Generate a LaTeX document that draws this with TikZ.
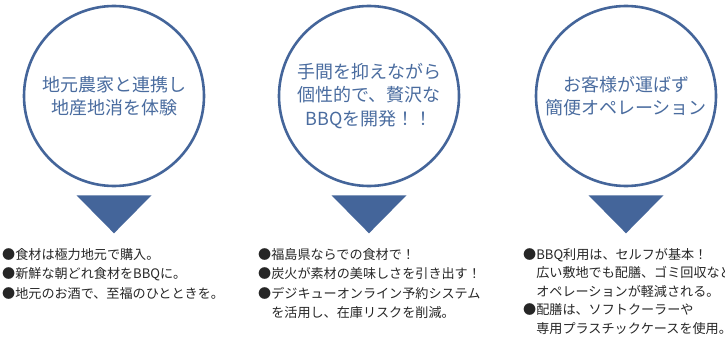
\documentclass[tikz,border=0pt]{standalone}
\usepackage{fontspec}
\setmainfont{Noto Sans CJK JP}
\usetikzlibrary{positioning,calc}
\definecolor{bbqblue}{HTML}{44659A}
\definecolor{bbqtext}{HTML}{4A6C9F}
\tikzset{
  ring/.style={circle,draw=bbqblue,line width=2.6pt,minimum size=180pt,inner sep=0pt,
    text=bbqtext,align=center,font=\fontsize{18}{23.5}\selectfont},
  points/.style={anchor=north west,inner sep=0pt,align=left,text=black!85,
    font=\fontsize{13.1}{19.5}\selectfont},
  wedge/.style={fill=bbqblue}
}
\begin{document}
\begin{tikzpicture}[x=1pt,y=-1pt]
\clip (0,0) rectangle (725,337);
\node (c1) [ring] at (114,96) {地元農家と連携し\\地産地消を体験};
\node (c2) [ring] at (369,96) {手間を抑えながら\\個性的で、贅沢な\\BBQを開発！！};
\node (c3) [ring] at (626,96) {お客様が運ばず\\簡便オペレーション};
% arrows below the circles
\coordinate (t1) at ($(c1.south)+(0,8)$);
\coordinate (t2) at ($(c2.south)+(0,8)$);
\coordinate (t3) at ($(c3.south)+(0,8)$);
\fill[wedge] (t1) ++(-37.5,0) -- ++(75,0) -- ++(-37.5,38) -- cycle;
\fill[wedge] (t2) ++(-37.5,0) -- ++(75,0) -- ++(-37.5,38) -- cycle;
\fill[wedge] (t3) ++(-37.5,0) -- ++(75,0) -- ++(-37.5,38) -- cycle;
% lists
\node (l1) [points] at (2,248) {●食材は極力地元で購入。\\●新鮮な朝どれ食材をBBQに。\\●地元のお酒で、至福のひとときを。};
\node (l2) [points] at (258,248) {●福島県ならでの食材で！\\●炭火が素材の美味しさを引き出す！\\●デジキューオンライン予約システム\\\phantom{●}を活用し、在庫リスクを削減。};
\node (l3) [points,font=\fontsize{13.1}{18.5}\selectfont] at (523,248) {●BBQ利用は、セルフが基本！\\\phantom{●}広い敷地でも配膳、ゴミ回収など\\\phantom{●}オペレーションが軽減される。\\●配膳は、ソフトクーラーや\\\phantom{●}専用プラスチックケースを使用。};
\end{tikzpicture}
\end{document}
